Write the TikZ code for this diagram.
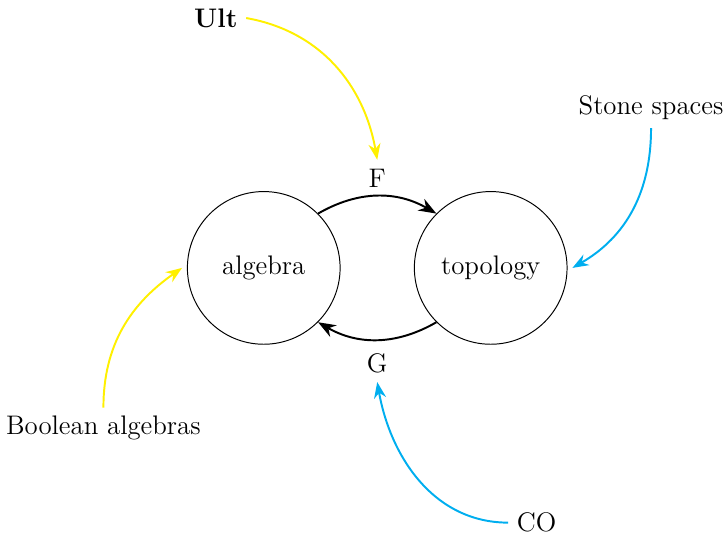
\documentclass[tikz,border=0pt]{standalone}
\usepackage{tikz}
\usetikzlibrary{arrows.meta, positioning}
\definecolor{myellow}{RGB}{255, 240, 0}
\definecolor{mcyan}{RGB}{0, 174, 239}

\begin{document}
\begin{tikzpicture}[every node/.style={font=\fontsize{11}{13}\selectfont}]
        \useasboundingbox (-3.80,-3.86) rectangle (6.66,3.86);
        % The two circles
        \node[circle, draw, minimum size=2.2cm] (alg) at (0,0) {algebra};
        \node[circle, draw, minimum size=2.2cm] (top) at (3.27,0) {topology};
        % Functors between them
        \draw[-{Stealth[scale=1.1]}, thick]
          (alg.45) to[bend left=30]
          node[above=0pt] (F) {F} (top.135);
        \draw[-{Stealth[scale=1.1]}, thick]
          (top.-135) to[bend left=30]
          node[below=2pt] (G) {G} (alg.-45);
        % Outer labels
        \node[font=\fontsize{11}{13}\selectfont\bfseries] (ult) at (-0.69,3.60) {Ult};
        \node (stone) at (5.58,2.31) {Stone spaces};
        \node (bool) at (-2.31,-2.31) {Boolean algebras};
        \node (co) at (3.93,-3.67) {CO};
        % Pointers
        \draw[-{Stealth}, myellow, thick]
          (ult.east) to[out=-10, in=100] (F.north);
        \draw[-{Stealth}, mcyan, thick]
          (stone.south) to[out=-90, in=30] ([xshift=2pt]top.east);
        \draw[-{Stealth}, myellow, thick]
          (bool.north) to[out=90, in=-145] ([xshift=-2pt]alg.west);
        \draw[-{Stealth}, mcyan, thick]
          (co.west) to[out=180, in=-80] (G.south);
      \end{tikzpicture}
\end{document}
